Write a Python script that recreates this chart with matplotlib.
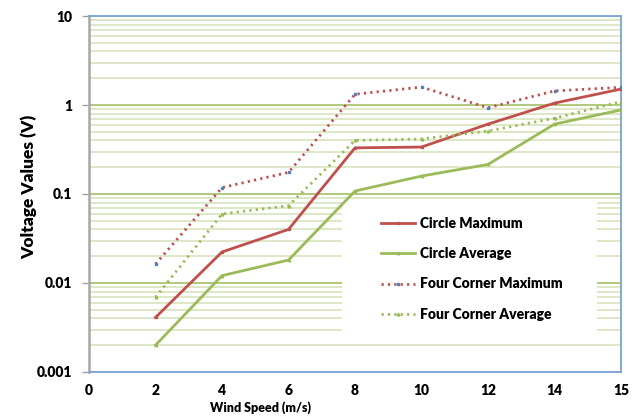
import matplotlib
matplotlib.use("Agg")
import matplotlib.pyplot as plt
from matplotlib.patches import Rectangle
from matplotlib.ticker import FixedLocator, NullFormatter, LogLocator

# Wind speed categories (evenly spaced on the axis)
wind_labels = ["0", "2", "4", "6", "8", "10", "12", "14", "15"]
wind_speeds = ["2", "4", "6", "8", "10", "12", "14", "15"]

# Measured voltages (V)
circle_max = [0.0041, 0.0223, 0.040, 0.33, 0.337, 0.61, 1.05, 1.51]
circle_avg = [0.0020, 0.0121, 0.0181, 0.108, 0.159, 0.215, 0.61, 0.88]
corner_max = [0.0163, 0.118, 0.175, 1.32, 1.59, 0.93, 1.44, 1.58]
corner_avg = [0.0069, 0.0596, 0.074, 0.40, 0.415, 0.51, 0.71, 1.09]

y_ticks = [0.001, 0.01, 0.1, 1, 10]
y_tick_labels = ["0.001", "0.01", "0.1", "1", "10"]

RED = "#C0504D"
GREEN = "#9BBB59"
BLUE = "#4F81BD"

plt.rcParams["font.family"] = ["Lato", "DejaVu Sans"]

fig = plt.figure(figsize=(6.38, 4.19), dpi=100)
ax = fig.add_axes([0.1395, 0.1122, 0.8339, 0.8496])

xpos = [wind_labels.index(w) for w in wind_speeds]

ax.plot(xpos, circle_max, color=RED, lw=2.0, marker="s", ms=1.4,
        label="Circle Maximum", zorder=3)
ax.plot(xpos, circle_avg, color=GREEN, lw=2.0, marker="^", ms=1.8,
        label="Circle Average", zorder=3)
ax.plot(xpos, corner_max, color=RED, lw=2.0, ls=(0, (0.8, 1.5)),
        marker="s", ms=1.8, mfc=BLUE, mec=BLUE,
        label="Four Corner Maximum", zorder=3)
ax.plot(xpos, corner_avg, color=GREEN, lw=2.0, ls=(0, (0.8, 1.5)),
        marker="^", ms=2.0, label="Four Corner Average", zorder=3)

ax.set_yscale("log")
ax.set_ylim(0.001, 10)
ax.set_xlim(0, len(wind_labels) - 1)
ax.set_xticks(range(len(wind_labels)))
ax.set_xticklabels(wind_labels, fontsize=10, fontweight="heavy")
ax.yaxis.set_major_locator(FixedLocator(y_ticks))
ax.set_yticklabels(y_tick_labels, fontsize=10, fontweight="heavy")
ax.yaxis.set_minor_locator(LogLocator(base=10, subs=range(2, 10)))
ax.yaxis.set_minor_formatter(NullFormatter())

ax.tick_params(axis="x", length=0, pad=9)
ax.tick_params(axis="y", which="major", length=5, width=1, color="#a0a0a0", pad=7)
ax.tick_params(axis="y", which="minor", length=0)

ax.grid(True, axis="y", which="major", color=GREEN, lw=1.1, zorder=0)
ax.grid(True, axis="y", which="minor", color="#dbe6c4", lw=1.3, zorder=0)
ax.set_axisbelow(True)

for side in ("top", "right", "bottom"):
    ax.spines[side].set_color("#7aa3d6")
    ax.spines[side].set_linewidth(1.3)
ax.spines["left"].set_color("#a6a6a6")
ax.spines["left"].set_linewidth(1.8)

ax.set_ylabel("Voltage Values (V)", fontsize=12.5, fontweight="heavy")
ax.yaxis.set_label_coords(-0.098, 0.52)
ax.set_xlabel("Wind Speed (m/s)", fontsize=9, fontweight="heavy", va="center")
ax.xaxis.set_label_coords(0.322, -0.1)

# White panel behind the legend
ax.add_patch(Rectangle((0.4756, 0.112), 0.4794, 0.371, transform=ax.transAxes,
                       facecolor="white", edgecolor="none", zorder=1.5))

leg = ax.legend(loc="upper left", bbox_to_anchor=(0.535, 0.455), frameon=False,
                prop={"weight": "heavy", "size": 10}, handlelength=2.5,
                handletextpad=0.35, labelspacing=1.24, borderpad=0)
leg.set_zorder(4)

fig.savefig("out.png", dpi=100)
